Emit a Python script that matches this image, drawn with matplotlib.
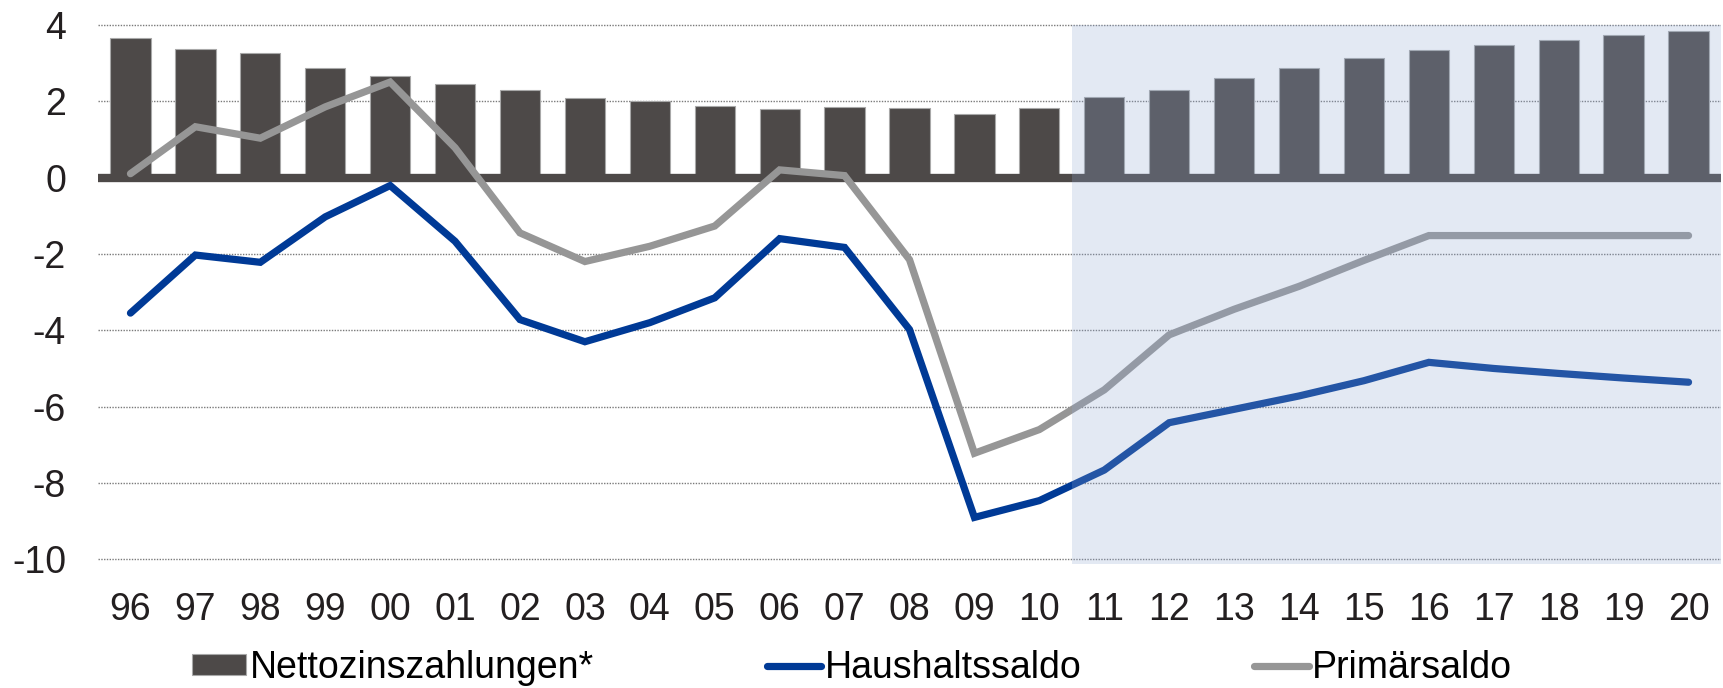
import numpy as np
import matplotlib
matplotlib.use("Agg")
import matplotlib.pyplot as plt

plt.rcParams['font.family'] = ['Liberation Sans', 'DejaVu Sans']

# data (in % of GDP)
years = ['96', '97', '98', '99', '00', '01', '02', '03', '04', '05', '06', '07', '08',
         '09', '10', '11', '12', '13', '14', '15', '16', '17', '18', '19', '20']
netto_zins = [3.65, 3.36, 3.25, 2.87, 2.67, 2.46, 2.28, 2.08, 2.00, 1.87, 1.79, 1.85, 1.82,
              1.66, 1.83, 2.10, 2.30, 2.60, 2.88, 3.14, 3.33, 3.48, 3.61, 3.73, 3.84]
haushaltssaldo = [-3.55, -2.03, -2.22, -1.03, -0.21, -1.67, -3.72, -4.3, -3.8, -3.15, -1.6, -1.83, -3.98,
                  -8.9, -8.46, -7.66, -6.42, -6.07, -5.72, -5.32, -4.84, -5.0, -5.13, -5.25, -5.36]
primaersaldo = [0.1, 1.33, 1.03, 1.85, 2.5, 0.78, -1.45, -2.2, -1.8, -1.27, 0.2, 0.05, -2.15,
                -7.22, -6.6, -5.56, -4.12, -3.45, -2.85, -2.17, -1.52, -1.52, -1.52, -1.52, -1.52]
forecast_start = '11'

x = np.arange(len(years))
ylo, yhi = -10.12, 4.02

fig = plt.figure(figsize=(17.23, 6.88), dpi=100)
ax = fig.add_axes([98 / 1723, 1 - 564 / 688, (1721 - 98) / 1723, 540 / 688])

bars = ax.bar(x, netto_zins, width=0.62, color='#4d4948', edgecolor='#a8a8a8', linewidth=0.8,
              zorder=2, label='Nettozinszahlungen*')
ax.axhline(0, color='#4d4948', lw=6, zorder=2.5)
l1, = ax.plot(x, haushaltssaldo, color='#003a96', lw=5.2, solid_capstyle='round',
              solid_joinstyle='miter', zorder=3, label='Haushaltssaldo')
l2, = ax.plot(x, primaersaldo, color='#969696', lw=5.2, solid_capstyle='round',
              solid_joinstyle='miter', zorder=3, label='Primärsaldo')

# forecast shading, drawn on top as translucent overlay
i0 = years.index(forecast_start) - 0.5
ax.axvspan(i0, len(years) - 0.5, ymin=0, ymax=(4 - ylo) / (yhi - ylo),
           color=(144 / 255, 168 / 255, 211 / 255), alpha=0.25, lw=0, zorder=4)

for v in [4, 2, -2, -4, -6, -8, -10]:
    ax.axhline(v, color='#7a7a7a', lw=1.0, ls=(0, (1, 1)), zorder=1)

ax.set_xlim(-0.5, len(years) - 0.5)
ax.set_ylim(ylo, yhi)
ax.set_yticks([4, 2, 0, -2, -4, -6, -8, -10])
ax.set_yticklabels(['4', '2', '0', '-2', '-4', '-6', '-8', '-10'])
ax.set_xticks(x)
ax.set_xticklabels(years)
ax.tick_params(axis='y', length=0, pad=23, labelsize=27, labelcolor='#231f20')
ax.tick_params(axis='x', length=0, pad=20, labelsize=27, labelcolor='#231f20')
for s in ax.spines.values():
    s.set_visible(False)

fig.legend([bars, l1, l2], ['Nettozinszahlungen*', 'Haushaltssaldo', 'Primärsaldo'],
           loc='center left', bbox_to_anchor=(192 / 1723, 1 - 668 / 688), ncol=3,
           frameon=False, fontsize=27, handlelength=1.45, handleheight=0.5,
           handletextpad=0.1, columnspacing=4.6, borderpad=0, borderaxespad=0)

fig.savefig('out.png', dpi=100)
